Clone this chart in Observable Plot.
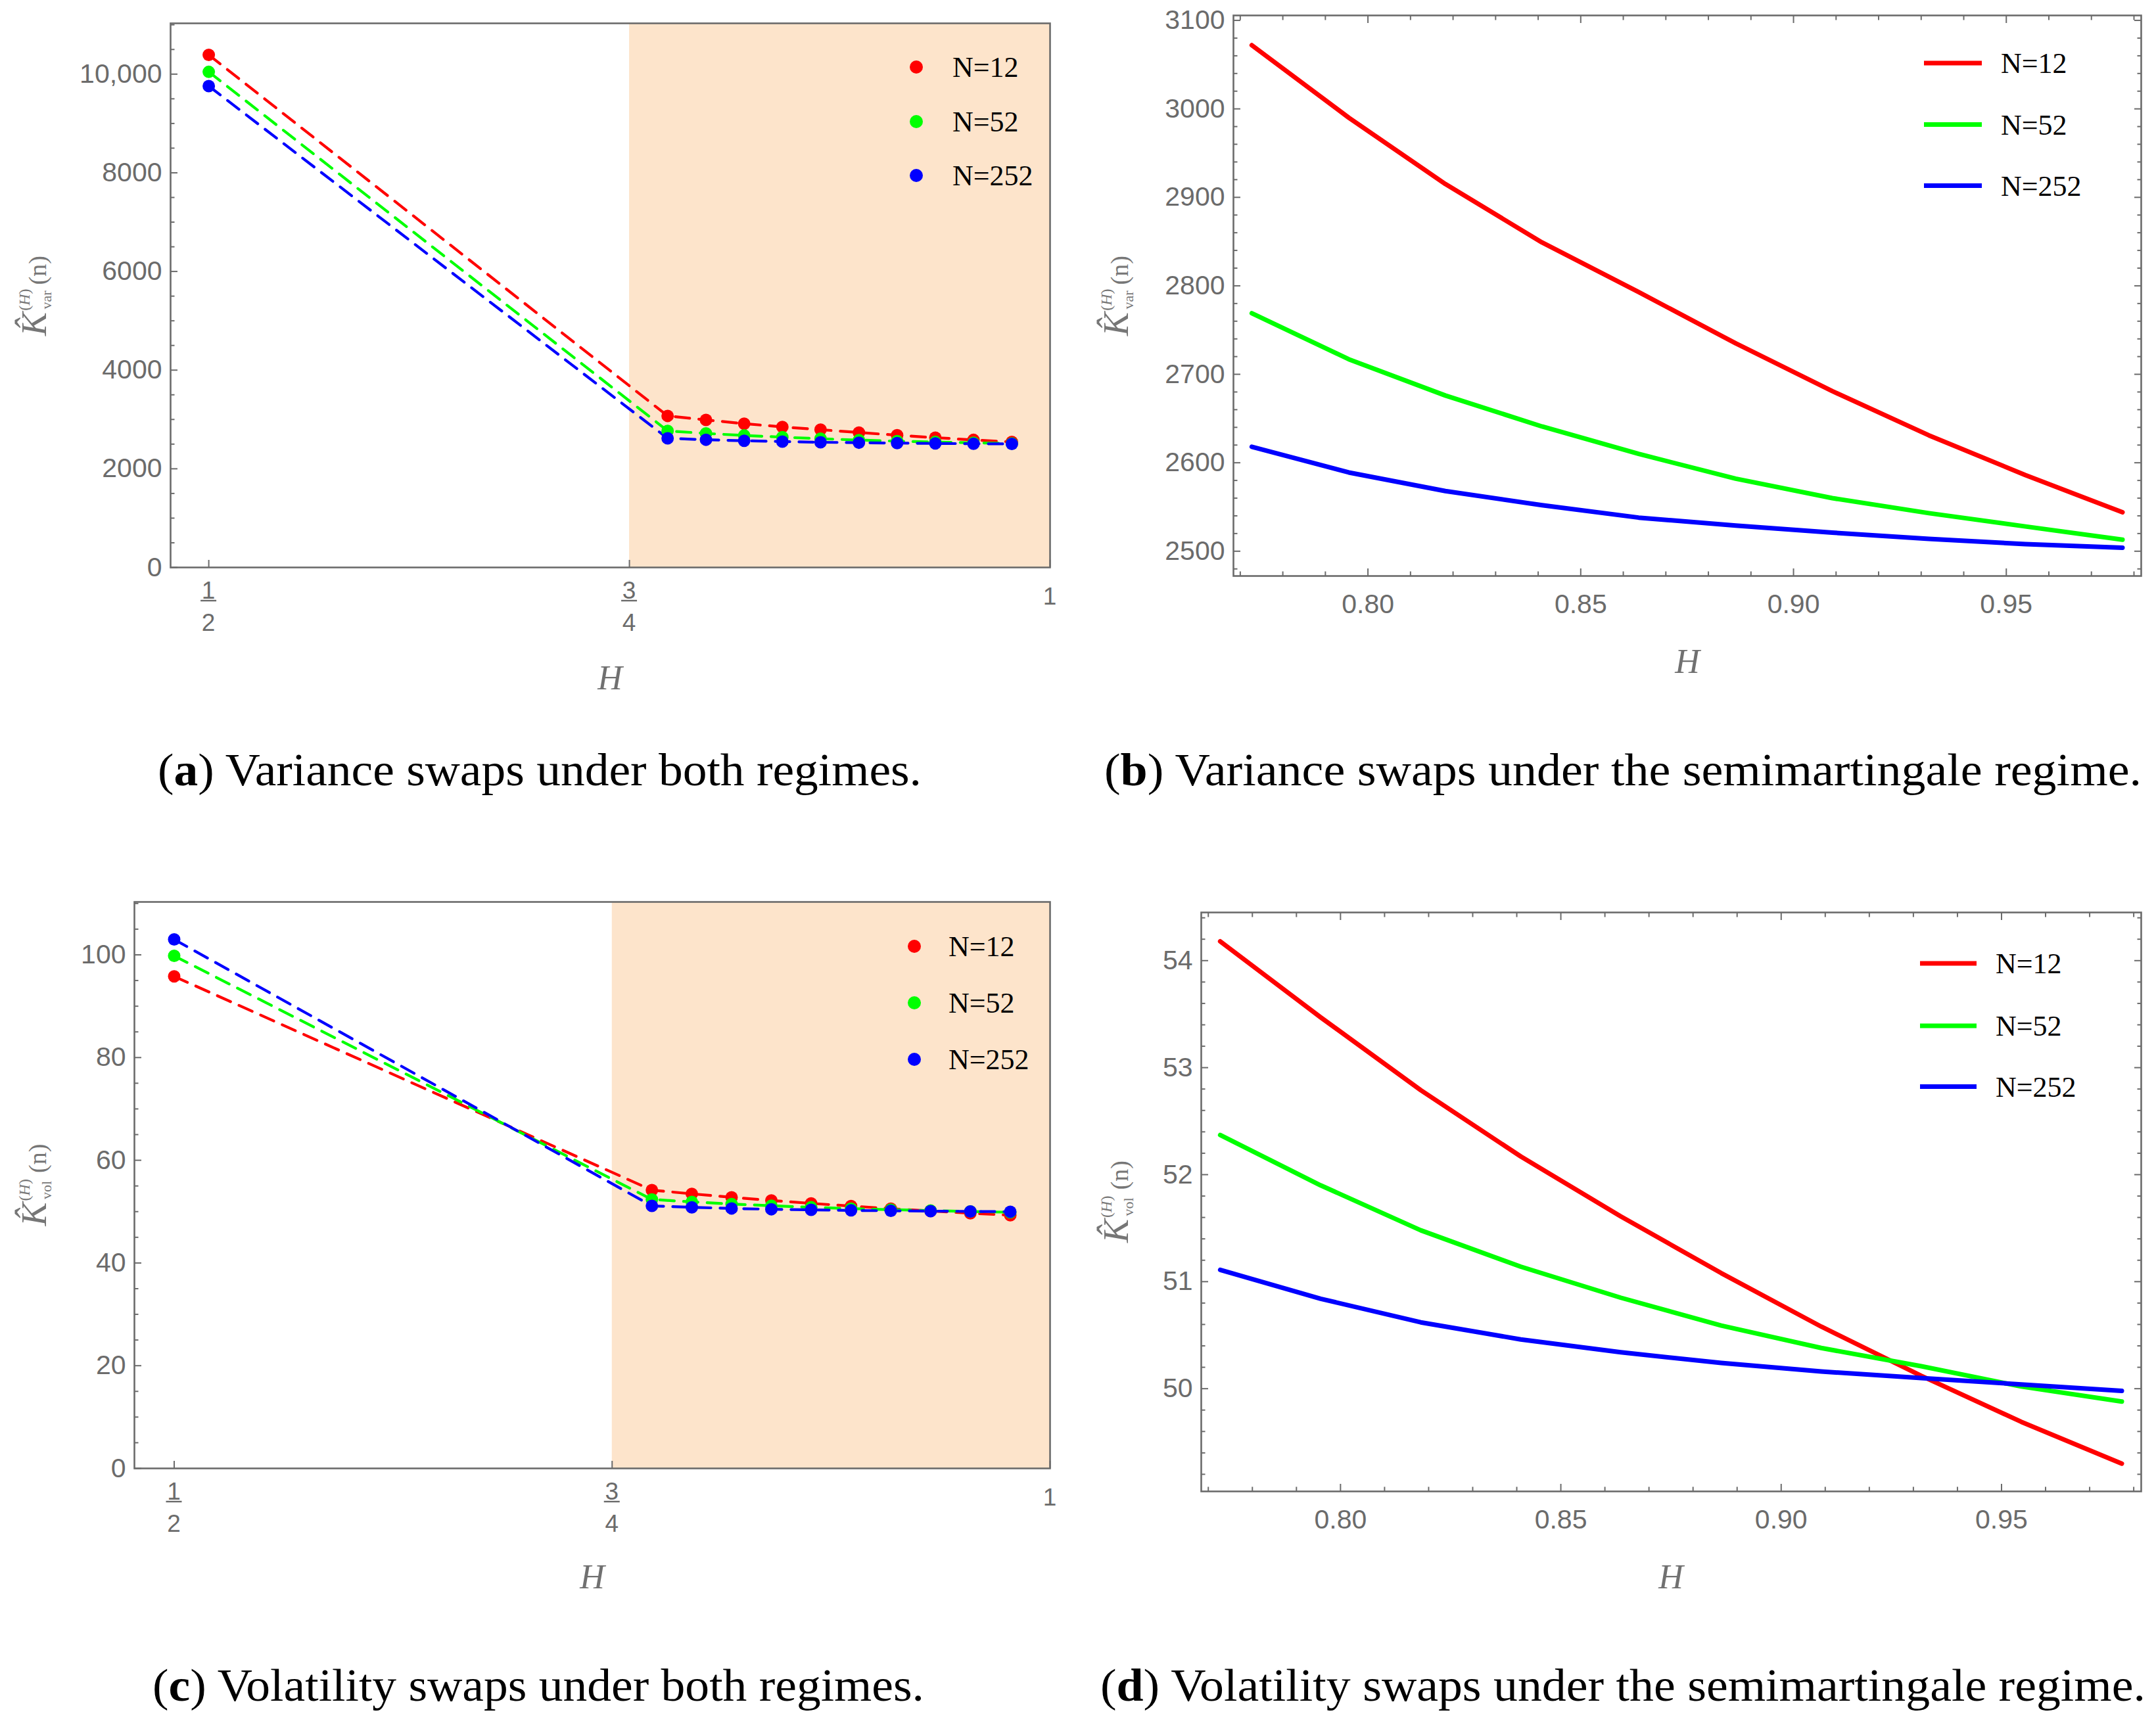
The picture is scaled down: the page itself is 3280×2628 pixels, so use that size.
<!DOCTYPE html>
<html><head><meta charset="utf-8">
<script src="https://cdn.jsdelivr.net/npm/d3@7"></script>
<script src="https://cdn.jsdelivr.net/npm/@observablehq/plot@0.6"></script>
<style>
html,body{margin:0;padding:0;background:#fff;}
#page{position:relative;width:3280px;height:2628px;background:#fff;overflow:hidden;}
.panel{position:absolute;}
</style></head>
<body><div id="page"></div>
<script>
// ---------------- data ----------------
const SERIES = ["N=12", "N=52", "N=252"];
const COLORS = ["#ff0000", "#00ff00", "#0000ff"];
const REGIME_START = 0.75;            // semimartingale regime H > 3/4
const H_HALF = 0.5;
const H_SEMI = [0.7727, 0.7955, 0.8182, 0.8409, 0.8636, 0.8864, 0.9091, 0.9318, 0.9545, 0.9773];

const VAR_HALF = [10390, 10046, 9758];
const VAR_N12  = [3072, 2990, 2915, 2849, 2793, 2735, 2681, 2631, 2586, 2544];
const VAR_N52  = [2769, 2717, 2676, 2641, 2610, 2582, 2560, 2543, 2528, 2513];
const VAR_N252 = [2618, 2589, 2568, 2552, 2538, 2529, 2521, 2514, 2508, 2504];

const VOL_HALF = [95.8, 99.8, 103.0];
const VOL_N12  = [54.18, 53.47, 52.79, 52.17, 51.61, 51.08, 50.58, 50.12, 49.69, 49.30];
const VOL_N52  = [52.37, 51.90, 51.48, 51.14, 50.85, 50.59, 50.38, 50.21, 50.02, 49.88];
const VOL_N252 = [51.11, 50.84, 50.62, 50.46, 50.34, 50.24, 50.16, 50.10, 50.04, 49.98];

// tick labels
const VAR_Y_TICKS = [0, 2000, 4000, 6000, 8000, 10000];
const VOL_Y_TICKS = [0, 20, 40, 60, 80, 100];
const FRACTION_TICKS = [{v: 0.5, num: "1", den: "2"}, {v: 0.75, num: "3", den: "4"}, {v: 1, num: "1", den: null}];
const SEMI_X_TICKS = [0.80, 0.85, 0.90, 0.95];
const VAR_SEMI_Y_TICKS = [2500, 2600, 2700, 2800, 2900, 3000, 3100];
const VOL_SEMI_Y_TICKS = [50, 51, 52, 53, 54];

const CAPTIONS = [
  {tag: "a", text: " Variance swaps under both regimes."},
  {tag: "b", text: " Variance swaps under the semimartingale regime."},
  {tag: "c", text: " Volatility swaps under both regimes."},
  {tag: "d", text: " Volatility swaps under the semimartingale regime."}
];

// ---------------- helpers ----------------
const GRAY = "#6b6b6b";
const TICK_FONT = "'Liberation Sans', Arial, sans-serif";
const SERIF = "'Liberation Serif', 'Times New Roman', serif";

function tidyBoth(half, arrays) {
  const out = [];
  SERIES.forEach((s, i) => {
    out.push({H: H_HALF, v: half[i], series: s});
    H_SEMI.forEach((h, j) => out.push({H: h, v: arrays[i][j], series: s}));
  });
  return out;
}
function tidySemi(arrays) {
  const out = [];
  SERIES.forEach((s, i) => H_SEMI.forEach((h, j) => out.push({H: h, v: arrays[i][j], series: s})));
  return out;
}
const colorScale = {domain: SERIES, range: COLORS};

function majorAxisY(ticks, fmt, anchor = "left") {
  return Plot.axisY({anchor, ticks, tickSize: -11, tickPadding: 24, strokeWidth: 2,
    tickFormat: fmt, fontSize: 41, label: null, color: GRAY});
}
function minorAxisY(ticks, anchor = "left") {
  return Plot.axisY({anchor, ticks, tickSize: -6.5, strokeWidth: 2, tickFormat: () => "", label: null, color: GRAY});
}
function majorAxisX(ticks, fmt, anchor = "bottom") {
  return Plot.axisX({anchor, ticks, tickSize: -11, tickPadding: 38, strokeWidth: 2,
    tickFormat: fmt, fontSize: 41, label: null, color: GRAY});
}
function minorAxisX(ticks, anchor = "bottom") {
  return Plot.axisX({anchor, ticks, tickSize: -6.5, strokeWidth: 2, tickFormat: () => "", label: null, color: GRAY});
}

function addYLabel(svg, bx, cy, sub) {
  const t = d3.select(svg).append("text")
    .attr("transform", `translate(${bx},${cy}) rotate(-90)`)
    .attr("text-anchor", "middle").attr("font-family", SERIF).attr("fill", "#767676");
  t.append("tspan").attr("font-style", "italic").attr("font-size", 54).text("K\u0302");
  t.append("tspan").attr("font-size", 24).attr("dy", -25).attr("dx", 2).text("(");
  t.append("tspan").attr("font-size", 24).attr("font-style", "italic").text("H");
  t.append("tspan").attr("font-size", 24).text(")");
  t.append("tspan").attr("font-size", 22).attr("dx", -31).attr("dy", 33).text(sub);
  t.append("tspan").attr("font-size", 38).attr("dx", sub === "var" ? 9 : 12).attr("dy", -8).text("(n)");
}
function addXLabel(svg, x, y) {
  d3.select(svg).append("text").attr("x", x).attr("y", y).attr("text-anchor", "middle")
    .attr("font-family", SERIF).attr("font-style", "italic").attr("font-size", 52).attr("fill", "#707070").text("H");
}
function addFractions(svg, chart, fb) {
  const sx = chart.scale("x");
  const g = d3.select(svg).append("g").attr("fill", GRAY).attr("font-family", TICK_FONT).attr("font-size", 37).attr("text-anchor", "middle");
  FRACTION_TICKS.forEach(t => {
    const x = sx.apply(t.v);
    if (t.den) {
      g.append("text").attr("x", x).attr("y", fb + 48).text(t.num);
      g.append("line").attr("x1", x - 12).attr("x2", x + 12).attr("y1", fb + 51).attr("y2", fb + 51)
        .attr("stroke", GRAY).attr("stroke-width", 2.4);
      g.append("text").attr("x", x).attr("y", fb + 97).text(t.den);
    } else {
      g.append("text").attr("x", x).attr("y", fb + 57).text(t.num);
    }
  });
}
function addLegend(svg, kind, x0, x1, tx, ys) {
  const g = d3.select(svg).append("g").attr("text-anchor", "start");
  SERIES.forEach((s, i) => {
    if (kind === "dot") {
      g.append("circle").attr("cx", x0).attr("cy", ys[i]).attr("r", 10).attr("fill", COLORS[i]);
    } else {
      g.append("line").attr("x1", x0).attr("x2", x1).attr("y1", ys[i]).attr("y2", ys[i])
        .attr("stroke", COLORS[i]).attr("stroke-width", 7);
    }
    g.append("text").attr("x", tx).attr("y", ys[i]).attr("dy", "0.35em").attr("font-family", SERIF)
      .attr("text-anchor", "start").attr("font-size", 44).attr("fill", "#000").text(s);
  });
}

const page = document.getElementById("page");
function place(chart, left, top) {
  chart.classList.add("panel");
  chart.style.left = left + "px";
  chart.style.top = top + "px";
  page.appendChild(chart);
}

const baseStyle = {fontFamily: TICK_FONT, color: GRAY, background: "transparent", overflow: "visible"};

// ---------------- panel (a) / (c) ----------------
function bothPanel({half, arrays, yDomain, majorY, minorY, fmtY, mL, mR, mT, mB, W, H}) {
  const data = tidyBoth(half, arrays);
  return Plot.plot({
    width: W, height: H, marginLeft: mL, marginRight: mR, marginTop: mT, marginBottom: mB,
    style: baseStyle,
    x: {domain: [0.4773, 1], label: null},
    y: {domain: yDomain, label: null},
    color: colorScale,
    marks: [
      Plot.rect([REGIME_START], {x1: d => d, x2: () => 1, fill: "#fde4cb"}),
      Plot.line(data, {x: "H", y: "v", z: "series", stroke: "series", strokeWidth: 4.2, strokeDasharray: "22,14"}),
      Plot.dot(data, {x: "H", y: "v", fill: "series", r: 9.5}),
      minorAxisY(minorY),
      majorAxisY(majorY, fmtY),
      Plot.axisX({anchor: "bottom", ticks: FRACTION_TICKS.map(t => t.v), tickSize: -11, strokeWidth: 2,
        tickFormat: () => "", label: null, color: GRAY}),
      Plot.frame({stroke: GRAY, strokeWidth: 2.6})
    ]
  });
}

// ---------------- panel (b) / (d) ----------------
function semiPanel({arrays, yDomain, majorY, minorY, fmtY, mL, mR, mT, mB, W, H}) {
  const data = tidySemi(arrays);
  const minorX = d3.range(77, 99).map(v => v / 100).filter(v => !SEMI_X_TICKS.some(t => Math.abs(t - v) < 1e-9));
  return Plot.plot({
    width: W, height: H, marginLeft: mL, marginRight: mR, marginTop: mT, marginBottom: mB,
    style: baseStyle,
    x: {domain: [0.7684, 0.9817], label: null},
    y: {domain: yDomain, label: null},
    color: colorScale,
    marks: [
      Plot.line(data, {x: "H", y: "v", z: "series", stroke: "series", strokeWidth: 7}),
      minorAxisY(minorY), majorAxisY(majorY, fmtY),
      minorAxisY(minorY, "right"), majorAxisY(majorY, () => "", "right"),
      minorAxisX(minorX), majorAxisX(SEMI_X_TICKS, d3.format(".2f")),
      minorAxisX(minorX, "top"), majorAxisX(SEMI_X_TICKS, () => "", "top"),
      Plot.frame({stroke: GRAY, strokeWidth: 2.6})
    ]
  });
}

// (a)
const chartA = bothPanel({
  half: VAR_HALF, arrays: [VAR_N12, VAR_N52, VAR_N252], yDomain: [0, 11030],
  majorY: VAR_Y_TICKS, minorY: d3.range(500, 11001, 500).filter(v => v % 2000 !== 0),
  fmtY: d => d >= 10000 ? d3.format(",")(d) : String(d),
  mL: 259, mR: 43, mT: 35, mB: 237, W: 1640, H: 1100
});
place(chartA, 0, 0);
addFractions(chartA, chartA, 863);
addXLabel(chartA, 928, 1049);
addYLabel(chartA, 70, 450, "var");
addLegend(chartA, "dot", 1394, null, 1449, [102, 185, 267]);

// (b)
const chartB = semiPanel({
  arrays: [VAR_N12, VAR_N52, VAR_N252], yDomain: [2472, 3105.6],
  majorY: VAR_SEMI_Y_TICKS, minorY: d3.range(2480, 3101, 20).filter(v => v % 100 !== 0),
  fmtY: d => String(d),
  mL: 236, mR: 23, mT: 23, mB: 224, W: 1640, H: 1100
});
place(chartB, 1640, 0);
addXLabel(chartB, 927, 1024);
addYLabel(chartB, 76, 450, "var");
addLegend(chartB, "line", 1287, 1375, 1404, [96, 189.5, 282.6]);

// (c)
const chartC = bothPanel({
  half: VOL_HALF, arrays: [VOL_N12, VOL_N52, VOL_N252], yDomain: [0, 110.3],
  majorY: VOL_Y_TICKS, minorY: d3.range(5, 111, 5).filter(v => v % 20 !== 0),
  fmtY: d => String(d),
  mL: 204, mR: 43, mT: 72, mB: 166, W: 1640, H: 1100
});
place(chartC, 0, 1300);
addFractions(chartC, chartC, 934);
addXLabel(chartC, 901, 1117);
addYLabel(chartC, 70, 503, "vol");
addLegend(chartC, "dot", 1391, null, 1443, [140, 226, 312]);

// (d)
const chartD = semiPanel({
  arrays: [VOL_N12, VOL_N52, VOL_N252], yDomain: [49.04, 54.45],
  majorY: VOL_SEMI_Y_TICKS, minorY: d3.range(246, 273).map(v => v / 5).filter(v => Math.abs(v - Math.round(v)) > 1e-9),
  fmtY: d => String(d),
  mL: 187, mR: 23, mT: 88, mB: 131, W: 1640, H: 1100
});
place(chartD, 1640, 1300);
addXLabel(chartD, 902, 1117);
addYLabel(chartD, 76, 528.5, "vol");
addLegend(chartD, "line", 1281, 1367, 1396, [166, 261, 353.6]);

// ---------------- captions ----------------
const capSvg = d3.select(page).append("svg").attr("width", 3280).attr("height", 2628)
  .style("position", "absolute").style("left", "0px").style("top", "0px").style("pointer-events", "none");
const capPos = [
  {x: 240, y: 1195, len: 1162},
  {x: 1680, y: 1195, len: 1578},
  {x: 232, y: 2588, len: 1174},
  {x: 1674, y: 2588, len: 1590}
];
CAPTIONS.forEach((c, i) => {
  const p = capPos[i];
  const t = capSvg.append("text").attr("x", p.x).attr("y", p.y).attr("font-family", SERIF)
    .attr("font-size", 70).attr("fill", "#000")
    .attr("textLength", p.len).attr("lengthAdjust", "spacingAndGlyphs");
  t.append("tspan").text("(");
  t.append("tspan").attr("font-weight", "bold").text(c.tag);
  t.append("tspan").text(")" + c.text);
});
</script>
</body></html>
